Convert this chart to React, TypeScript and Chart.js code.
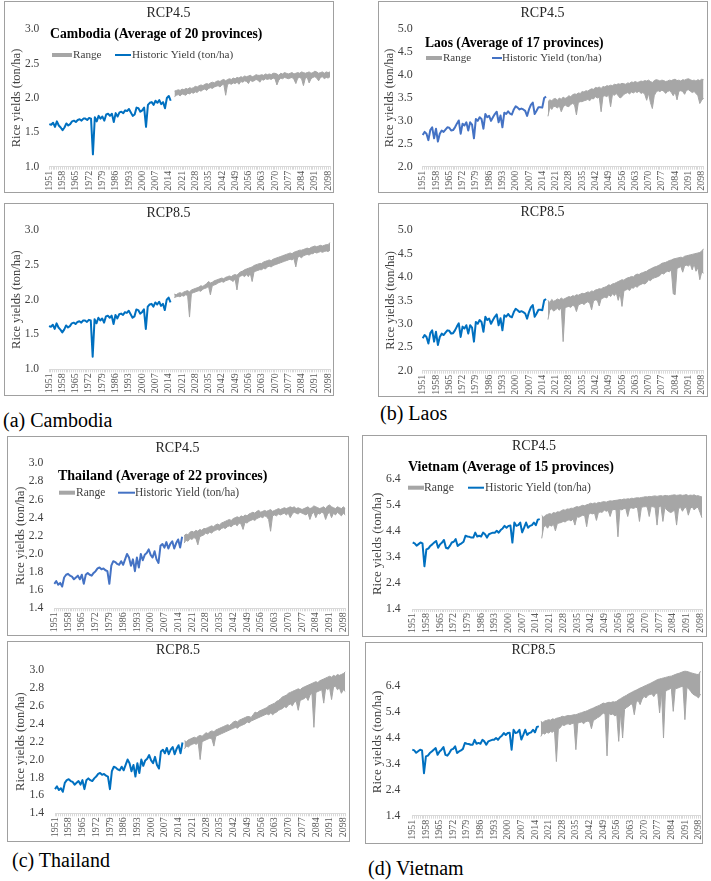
import React, { useEffect, useRef } from 'react';
import { Chart, registerables } from 'chart.js';

Chart.register(...registerables);

const SERIF = '"Liberation Serif", "Times New Roman", serif';

const FIRST_YEAR = 1951;
const LAST_YEAR = 2099;
const HIST_END = 2016;
const YEARS: string[] = [];
for (let y = FIRST_YEAR; y <= LAST_YEAR; y++) YEARS.push(String(y));

// Historic yield (ton/ha), 1951-2016
const KH_HIST = [
  1.62, 1.61, 1.64, 1.58, 1.66, 1.60, 1.57, 1.53, 1.57, 1.63,
  1.60, 1.62, 1.66, 1.67, 1.65, 1.68, 1.69, 1.67, 1.70, 1.70,
  1.68, 1.71, 1.70, 1.18, 1.72, 1.66, 1.74, 1.70, 1.73, 1.67,
  1.76, 1.77, 1.74, 1.77, 1.65, 1.78, 1.73, 1.79, 1.80, 1.78,
  1.82, 1.81, 1.84, 1.79, 1.74, 1.76, 1.86, 1.85, 1.80, 1.82,
  1.86, 1.58, 1.90, 1.93, 1.94, 1.90, 1.96, 1.93, 1.97, 1.91,
  1.94, 1.85, 2.00, 2.03, 1.96, null,
];
const LA_HIST = [
  2.69, 2.76, 2.72, 2.58, 2.80, 2.86, 2.62, 2.83, 2.55, 2.72,
  2.79, 2.76, 2.81, 2.86, 2.85, 2.79, 2.80, 2.86, 2.94, 3.01,
  2.72, 2.94, 2.90, 2.97, 2.79, 2.97, 2.92, 2.62, 3.04, 3.00,
  3.08, 3.04, 2.83, 3.15, 3.08, 3.11, 3.00, 3.08, 3.15, 3.20,
  2.97, 3.12, 2.86, 3.18, 3.15, 3.21, 3.16, 3.14, 3.25, 3.32,
  3.29, 3.25, 3.27, 3.25, 3.22, 3.11, 3.25, 3.35, 3.40, 3.15,
  3.22, 3.30, 3.30, 3.29, 3.50, 3.53,
];
const TH_HIST = [
  1.67, 1.70, 1.66, 1.68, 1.64, 1.74, 1.77, 1.78, 1.76, 1.75,
  1.72, 1.74, 1.76, 1.72, 1.77, 1.67, 1.77, 1.79, 1.77, 1.76,
  1.79, 1.81, 1.84, 1.85, 1.83, 1.84, 1.82, 1.81, 1.67, 1.87,
  1.92, 1.91, 1.89, 1.88, 1.92, 1.88, 1.94, 2.00, 1.96, 1.87,
  1.94, 1.81, 1.96, 1.85, 2.00, 1.93, 1.99, 2.01, 2.05, 1.99,
  1.96, 2.03, 1.94, 1.90, 2.09, 2.11, 2.07, 2.13, 2.06, 2.11,
  2.14, 2.06, 2.12, 2.16, 2.07, 2.19,
];
const VN_HIST = [
  3.95, 3.92, 3.83, 3.89, 3.95, 3.92, 3.04, 3.69, 3.72, 3.82,
  3.88, 3.95, 4.01, 3.75, 3.88, 3.95, 4.05, 3.75, 3.72, 3.82,
  3.95, 3.98, 4.08, 3.82, 3.88, 3.92, 3.98, 4.21, 4.18, 4.17,
  4.14, 4.14, 4.33, 4.18, 4.21, 4.18, 4.33, 4.27, 4.14, 4.27,
  4.30, 4.33, 4.33, 4.40, 4.33, 4.43, 4.49, 4.59, 4.52, 4.59,
  4.60, 3.95, 4.72, 4.59, 4.62, 4.72, 4.34, 4.52, 4.72, 4.52,
  4.59, 4.62, 4.72, 4.62, 4.83, 4.85,
];

// Projected range (upper / lower), 2017-2099
const KH45_HI = [
  2.10, 2.11, 2.12, 2.11, 2.13, 2.12, 2.14, 2.13, 2.15, 2.14,
  2.15, 2.17, 2.16, 2.18, 2.19, 2.18, 2.20, 2.21, 2.20, 2.22,
  2.23, 2.22, 2.24, 2.25, 2.24, 2.26, 2.27, 2.25, 2.27, 2.28,
  2.27, 2.29, 2.28, 2.30, 2.29, 2.31, 2.30, 2.32, 2.31, 2.32,
  2.33, 2.31, 2.32, 2.34, 2.33, 2.33, 2.34, 2.33, 2.35, 2.34,
  2.35, 2.34, 2.36, 2.36, 2.35, 2.33, 2.36, 2.35, 2.37, 2.36,
  2.35, 2.36, 2.37, 2.35, 2.36, 2.37, 2.36, 2.38, 2.37, 2.36,
  2.37, 2.38, 2.36, 2.37, 2.39, 2.38, 2.36, 2.37, 2.38, 2.36,
  2.38, 2.37, 2.38,
];
const KH45_LO = [
  2.02, 2.04, 2.05, 2.03, 2.06, 2.05, 2.04, 2.07, 2.06, 2.08,
  2.07, 2.09, 2.08, 2.11, 2.10, 2.12, 2.13, 2.11, 2.14, 2.15,
  2.14, 2.16, 2.17, 2.18, 2.16, 2.19, 2.20, 2.04, 2.20, 2.21,
  2.20, 2.22, 2.21, 2.23, 2.20, 2.24, 2.23, 2.25, 2.24, 2.21,
  2.26, 2.24, 2.25, 2.27, 2.26, 2.23, 2.27, 2.26, 2.28, 2.27,
  2.28, 2.27, 2.29, 2.28, 2.19, 2.26, 2.29, 2.28, 2.30, 2.29,
  2.28, 2.29, 2.30, 2.27, 2.21, 2.29, 2.30, 2.28, 2.18, 2.29,
  2.30, 2.22, 2.28, 2.30, 2.31, 2.29, 2.25, 2.30, 2.31, 2.28,
  2.30, 2.29, 2.31,
];
const KH85_HI = [
  2.08, 2.07, 2.09, 2.10, 2.09, 2.11, 2.12, 2.13, 2.11, 2.14,
  2.15, 2.16, 2.17, 2.18, 2.20, 2.19, 2.21, 2.23, 2.26, 2.24,
  2.25, 2.27, 2.28, 2.29, 2.30, 2.31, 2.30, 2.32, 2.33, 2.34,
  2.33, 2.35, 2.36, 2.35, 2.38, 2.40, 2.41, 2.43, 2.44, 2.45,
  2.46, 2.47, 2.49, 2.50, 2.51, 2.52, 2.52, 2.54, 2.55, 2.56,
  2.57, 2.56, 2.58, 2.59, 2.60, 2.61, 2.62, 2.63, 2.64, 2.65,
  2.66, 2.67, 2.66, 2.68, 2.69, 2.70, 2.71, 2.71, 2.72, 2.73,
  2.74, 2.73, 2.75, 2.76, 2.77, 2.76, 2.77, 2.78, 2.77, 2.78,
  2.79, 2.79, 2.82,
];
const KH85_LO = [
  2.03, 2.04, 2.05, 2.04, 2.06, 2.05, 2.07, 2.06, 1.75, 2.09,
  2.10, 2.11, 2.12, 2.13, 2.12, 2.15, 2.16, 2.17, 2.19, 2.07,
  2.20, 2.21, 2.22, 2.24, 2.25, 2.26, 2.25, 2.27, 2.28, 2.29,
  2.28, 2.26, 2.30, 2.14, 2.32, 2.34, 2.35, 2.33, 2.36, 2.33,
  2.38, 2.26, 2.40, 2.41, 2.42, 2.43, 2.43, 2.45, 2.44, 2.47,
  2.48, 2.47, 2.49, 2.50, 2.51, 2.52, 2.53, 2.54, 2.55, 2.56,
  2.57, 2.58, 2.57, 2.59, 2.47, 2.61, 2.62, 2.60, 2.63, 2.64,
  2.65, 2.64, 2.66, 2.66, 2.68, 2.67, 2.68, 2.69, 2.68, 2.69,
  2.70, 2.69, 2.71,
];
const LA45_HI = [
  3.42, 3.46, 3.44, 3.48, 3.49, 3.45, 3.50, 3.47, 3.52, 3.49,
  3.51, 3.55, 3.53, 3.57, 3.59, 3.58, 3.61, 3.60, 3.64, 3.63,
  3.66, 3.65, 3.68, 3.70, 3.69, 3.73, 3.72, 3.74, 3.71, 3.75,
  3.74, 3.77, 3.76, 3.78, 3.77, 3.80, 3.79, 3.81, 3.80, 3.82,
  3.81, 3.80, 3.83, 3.82, 3.85, 3.84, 3.86, 3.84, 3.85, 3.87,
  3.86, 3.88, 3.87, 3.89, 3.86, 3.84, 3.88, 3.90, 3.89, 3.87,
  3.89, 3.88, 3.86, 3.87, 3.89, 3.88, 3.90, 3.91, 3.88, 3.89,
  3.87, 3.90, 3.89, 3.91, 3.92, 3.90, 3.88, 3.89, 3.87, 3.90,
  3.88, 3.91, 3.90,
];
const LA45_LO = [
  3.10, 3.30, 3.25, 3.32, 3.31, 3.28, 3.33, 3.20, 3.30, 3.35,
  3.32, 3.31, 3.36, 3.38, 3.35, 3.13, 3.40, 3.42, 3.42, 3.44,
  3.45, 3.47, 3.44, 3.49, 3.48, 3.53, 3.50, 3.52, 3.20, 3.54,
  3.55, 3.53, 3.57, 3.31, 3.58, 3.56, 3.60, 3.55, 3.50, 3.53,
  3.58, 3.60, 3.62, 3.59, 3.63, 3.61, 3.64, 3.62, 3.65, 3.60,
  3.62, 3.58, 3.45, 3.60, 3.40, 3.27, 3.55, 3.63, 3.66, 3.64,
  3.67, 3.65, 3.60, 3.64, 3.66, 3.62, 3.55, 3.63, 3.46, 3.65,
  3.66, 3.64, 3.58, 3.67, 3.68, 3.65, 3.62, 3.64, 3.60, 3.55,
  3.38, 3.45, 3.50,
];
const LA85_HI = [
  3.50, 3.45, 3.52, 3.48, 3.50, 3.53, 3.51, 3.55, 3.52, 3.54,
  3.56, 3.58, 3.57, 3.60, 3.59, 3.62, 3.61, 3.63, 3.65, 3.64,
  3.66, 3.68, 3.67, 3.70, 3.69, 3.72, 3.73, 3.75, 3.74, 3.77,
  3.78, 3.80, 3.83, 3.82, 3.85, 3.86, 3.88, 3.90, 3.92, 3.94,
  3.93, 3.96, 3.98, 3.99, 4.01, 4.00, 4.04, 4.06, 4.05, 4.08,
  4.09, 4.11, 4.12, 4.15, 4.17, 4.19, 4.21, 4.22, 4.24, 4.26,
  4.29, 4.30, 4.31, 4.33, 4.35, 4.36, 4.38, 4.39, 4.40, 4.41,
  4.42, 4.41, 4.44, 4.45, 4.46, 4.47, 4.48, 4.49, 4.50, 4.51,
  4.52, 4.55, 4.60,
];
const LA85_LO = [
  3.09, 3.30, 3.32, 3.27, 3.30, 3.33, 3.29, 3.35, 2.62, 3.34,
  3.36, 3.37, 3.35, 3.39, 3.38, 3.26, 3.40, 3.42, 3.44, 3.41,
  3.45, 3.47, 3.44, 3.30, 3.49, 3.51, 3.50, 3.38, 3.53, 3.55,
  3.57, 3.55, 3.62, 3.58, 3.64, 3.60, 3.66, 3.50, 3.65, 3.37,
  3.70, 3.72, 3.74, 3.71, 3.77, 3.76, 3.80, 3.78, 3.82, 3.84,
  3.86, 3.85, 3.88, 3.94, 3.92, 3.96, 3.98, 3.99, 4.01, 4.03,
  4.08, 4.06, 4.10, 4.12, 4.11, 4.15, 3.64, 3.62, 4.18, 4.20,
  4.22, 4.10, 4.24, 4.25, 4.23, 4.27, 4.15, 4.28, 4.12, 4.20,
  3.94, 4.10, 4.08,
];
const TH45_HI = [
  2.20, 2.22, 2.21, 2.24, 2.25, 2.24, 2.26, 2.25, 2.27, 2.26,
  2.28, 2.28, 2.29, 2.30, 2.31, 2.30, 2.32, 2.33, 2.32, 2.34,
  2.35, 2.36, 2.37, 2.38, 2.37, 2.39, 2.40, 2.41, 2.40, 2.42,
  2.41, 2.43, 2.42, 2.44, 2.45, 2.46, 2.45, 2.47, 2.48, 2.46,
  2.47, 2.48, 2.47, 2.48, 2.49, 2.47, 2.48, 2.49, 2.50, 2.49,
  2.50, 2.51, 2.50, 2.51, 2.52, 2.51, 2.52, 2.50, 2.51, 2.50,
  2.49, 2.50, 2.51, 2.52, 2.50, 2.51, 2.53, 2.52, 2.51, 2.50,
  2.51, 2.52, 2.50, 2.53, 2.54, 2.52, 2.51, 2.50, 2.52, 2.51,
  2.50, 2.52, 2.50,
];
const TH45_LO = [
  2.12, 2.15, 2.14, 2.17, 2.16, 2.18, 2.17, 2.10, 2.19, 2.20,
  2.21, 2.23, 2.22, 2.24, 2.23, 2.25, 2.26, 2.27, 2.26, 2.28,
  2.29, 2.28, 2.30, 2.31, 2.30, 2.32, 2.33, 2.31, 2.34, 2.33,
  2.27, 2.35, 2.34, 2.36, 2.37, 2.38, 2.37, 2.39, 2.40, 2.41,
  2.40, 2.42, 2.41, 2.38, 2.25, 2.42, 2.43, 2.42, 2.44, 2.43,
  2.44, 2.45, 2.43, 2.45, 2.40, 2.44, 2.46, 2.45, 2.44, 2.46,
  2.45, 2.44, 2.43, 2.45, 2.38, 2.44, 2.46, 2.40, 2.45, 2.44,
  2.46, 2.45, 2.38, 2.44, 2.46, 2.40, 2.45, 2.43, 2.46, 2.44,
  2.42, 2.45, 2.43,
];
const TH85_HI = [
  2.21, 2.20, 2.22, 2.23, 2.24, 2.25, 2.24, 2.26, 2.27, 2.26,
  2.28, 2.30, 2.29, 2.31, 2.32, 2.31, 2.33, 2.34, 2.35, 2.36,
  2.37, 2.38, 2.39, 2.38, 2.40, 2.42, 2.43, 2.42, 2.44, 2.45,
  2.46, 2.47, 2.48, 2.48, 2.47, 2.50, 2.53, 2.52, 2.54, 2.55,
  2.56, 2.57, 2.58, 2.60, 2.61, 2.62, 2.63, 2.65, 2.66, 2.68,
  2.70, 2.71, 2.72, 2.74, 2.75, 2.76, 2.77, 2.78, 2.79, 2.78,
  2.80, 2.81, 2.82, 2.83, 2.84, 2.85, 2.86, 2.87, 2.86, 2.88,
  2.89, 2.90, 2.91, 2.92, 2.93, 2.92, 2.94, 2.93, 2.95, 2.94,
  2.95, 2.96, 2.98,
];
const TH85_LO = [
  2.12, 2.15, 2.14, 2.16, 2.17, 2.18, 2.17, 2.19, 2.00, 2.20,
  2.21, 2.22, 2.23, 2.24, 2.23, 2.15, 2.26, 2.27, 2.28, 2.29,
  2.30, 2.31, 2.32, 2.33, 2.34, 2.35, 2.36, 2.35, 2.37, 2.38,
  2.39, 2.40, 2.42, 2.41, 2.43, 2.44, 2.45, 2.46, 2.47, 2.48,
  2.49, 2.50, 2.51, 2.50, 2.52, 2.50, 2.52, 2.53, 2.55, 2.56,
  2.57, 2.59, 2.58, 2.61, 2.62, 2.60, 2.64, 2.65, 2.55, 2.66,
  2.67, 2.68, 2.70, 2.66, 2.72, 2.74, 2.36, 2.75, 2.76, 2.77,
  2.78, 2.63, 2.80, 2.78, 2.80, 2.67, 2.81, 2.82, 2.78, 2.80,
  2.74, 2.78, 2.76,
];
const VN45_HI = [
  4.99, 4.92, 5.00, 5.03, 5.06, 5.04, 5.10, 5.08, 5.13, 5.12,
  5.17, 5.21, 5.19, 5.24, 5.23, 5.27, 5.26, 5.30, 5.33, 5.31,
  5.35, 5.38, 5.36, 5.40, 5.42, 5.46, 5.44, 5.47, 5.45, 5.49,
  5.48, 5.51, 5.52, 5.50, 5.53, 5.55, 5.54, 5.56, 5.57, 5.58,
  5.60, 5.59, 5.62, 5.61, 5.63, 5.62, 5.65, 5.64, 5.66, 5.67,
  5.66, 5.68, 5.69, 5.71, 5.70, 5.72, 5.71, 5.73, 5.74, 5.72,
  5.74, 5.75, 5.73, 5.76, 5.75, 5.74, 5.76, 5.77, 5.78, 5.76,
  5.77, 5.78, 5.76, 5.77, 5.79, 5.75, 5.77, 5.76, 5.78, 5.74,
  5.75, 5.72, 5.70,
];
const VN45_LO = [
  4.11, 4.55, 4.60, 4.50, 4.62, 4.58, 4.65, 4.40, 4.68, 4.70,
  4.72, 4.76, 4.74, 4.80, 4.82, 4.78, 4.85, 4.62, 4.94, 4.92,
  4.96, 5.00, 4.98, 4.56, 5.03, 5.07, 5.05, 5.08, 4.80, 5.10,
  5.12, 5.11, 5.20, 5.15, 5.18, 4.95, 5.20, 5.22, 5.21, 4.17,
  5.24, 5.20, 5.25, 5.26, 4.95, 5.27, 5.28, 5.26, 5.30, 5.29,
  4.76, 5.30, 5.32, 5.33, 5.31, 4.95, 5.34, 5.32, 5.30, 4.62,
  5.33, 5.35, 4.76, 5.30, 5.20, 5.14, 5.10, 5.14, 5.20, 4.62,
  5.25, 5.30, 5.15, 5.28, 5.30, 5.00, 5.25, 5.32, 5.20, 5.28,
  5.30, 5.10, 4.90,
];
const VN85_HI = [
  5.04, 5.00, 5.06, 5.08, 5.11, 5.09, 5.14, 5.12, 5.16, 5.18,
  5.20, 5.24, 5.22, 5.25, 5.27, 5.26, 5.28, 5.30, 5.30, 5.33,
  5.36, 5.38, 5.41, 5.43, 5.46, 5.50, 5.53, 5.56, 5.60, 5.63,
  5.66, 5.70, 5.75, 5.73, 5.76, 5.78, 5.77, 5.80, 5.79, 5.82,
  5.88, 5.92, 5.97, 6.01, 6.05, 6.10, 6.14, 6.18, 6.22, 6.25,
  6.29, 6.33, 6.36, 6.40, 6.43, 6.47, 6.50, 6.54, 6.58, 6.62,
  6.66, 6.68, 6.70, 6.72, 6.74, 6.76, 6.78, 6.79, 6.82, 6.85,
  6.88, 6.90, 6.93, 6.96, 6.98, 6.97, 6.95, 6.92, 6.90, 6.88,
  6.86, 6.85, 6.98,
];
const VN85_LO = [
  4.46, 4.60, 4.55, 4.62, 4.59, 4.65, 4.62, 4.70, 3.49, 4.75,
  4.80, 4.91, 4.88, 4.93, 4.95, 4.92, 4.96, 4.97, 3.95, 4.98,
  5.00, 5.02, 4.95, 5.03, 5.05, 5.04, 4.76, 5.08, 5.12, 5.18,
  5.22, 5.28, 5.37, 5.32, 3.71, 5.35, 5.30, 5.33, 5.25, 5.30,
  4.27, 5.40, 4.40, 5.50, 5.58, 5.62, 5.69, 5.72, 5.30, 5.78,
  5.85, 5.69, 5.90, 6.01, 5.95, 6.05, 6.08, 6.10, 6.00, 6.12,
  6.14, 5.37, 6.18, 4.40, 6.20, 6.25, 6.28, 6.34, 5.43, 6.30,
  6.32, 6.35, 6.38, 6.40, 5.11, 6.35, 6.30, 6.20, 6.10, 6.05,
  6.01, 5.95, 6.10,
];

// Y-axis tick labels
const KH_TICKS = [1.0, 1.5, 2.0, 2.5, 3.0];
const LA_TICKS = [2.0, 2.5, 3.0, 3.5, 4.0, 4.5, 5.0];
const TH_TICKS = [1.4, 1.6, 1.8, 2.0, 2.2, 2.4, 2.6, 2.8, 3.0];
const VN_TICKS = [1.4, 2.4, 3.4, 4.4, 5.4, 6.4];

const BLUE = '#0070C0';
const BLUE2 = '#4472C4';
const GRAY = '#A6A6A6';

type Legend = {
  name: string; bx: number; by: number; bsize: number; ly: number;
  rx: number; rw: number; rtx: number; hx: number; hw: number; htx: number; lsize: number;
};
type Panel = {
  key: string; title: string;
  hist: (number | null)[]; hi: number[]; lo: number[]; ticks: number[];
  yMin: number; yMax: number; color: string;
  box: { l: number; t: number; r: number; b: number };
  plot: { l: number; r: number; t: number; b: number };
  titleY: number; yTitleX: number; yTitleSize: number; tickSize: number; tickGap: number;
  legend?: Legend;
};

const PANELS: Panel[] = [
  {
    key: 'kh45', title: 'RCP4.5', hist: KH_HIST, hi: KH45_HI, lo: KH45_LO, ticks: KH_TICKS,
    yMin: 1.0, yMax: 3.0, color: BLUE,
    box: { l: 4, t: 1, r: 333, b: 192 }, plot: { l: 49.3, r: 330, t: 29.3, b: 166.7 },
    titleY: 13, yTitleX: 16.5, yTitleSize: 12.5, tickSize: 11.5, tickGap: 10,
    legend: { name: 'Cambodia (Average of 20 provinces)', bx: 50, by: 34, bsize: 13.7, ly: 55,
      rx: 52, rw: 20, rtx: 73, hx: 115, hw: 16, htx: 132, lsize: 11.2 },
  },
  {
    key: 'kh85', title: 'RCP8.5', hist: KH_HIST, hi: KH85_HI, lo: KH85_LO, ticks: KH_TICKS,
    yMin: 1.0, yMax: 3.0, color: BLUE,
    box: { l: 4, t: 203, r: 333, b: 395 }, plot: { l: 49, r: 330, t: 230, b: 369.3 },
    titleY: 213.3, yTitleX: 16.7, yTitleSize: 12.5, tickSize: 11.5, tickGap: 10,
  },
  {
    key: 'la45', title: 'RCP4.5', hist: LA_HIST, hi: LA45_HI, lo: LA45_LO, ticks: LA_TICKS,
    yMin: 2.0, yMax: 5.0, color: BLUE2,
    box: { l: 378, t: 1, r: 707, b: 192 }, plot: { l: 422.7, r: 703.6, t: 29.3, b: 166.7 },
    titleY: 13.3, yTitleX: 390, yTitleSize: 12.5, tickSize: 12, tickGap: 10,
    legend: { name: 'Laos (Average of 17 provinces)', bx: 425, by: 43, bsize: 13.6, ly: 58,
      rx: 426, rw: 16, rtx: 443, hx: 492, hw: 10, htx: 502, lsize: 11 },
  },
  {
    key: 'la85', title: 'RCP8.5', hist: LA_HIST, hi: LA85_HI, lo: LA85_LO, ticks: LA_TICKS,
    yMin: 2.0, yMax: 5.0, color: BLUE,
    box: { l: 378, t: 203, r: 707, b: 396 }, plot: { l: 422.7, r: 703.6, t: 230, b: 370.7 },
    titleY: 212.7, yTitleX: 390.7, yTitleSize: 12.5, tickSize: 12, tickGap: 10,
  },
  {
    key: 'th45', title: 'RCP4.5', hist: TH_HIST, hi: TH45_HI, lo: TH45_LO, ticks: TH_TICKS,
    yMin: 1.4, yMax: 3.0, color: BLUE2,
    box: { l: 7, t: 436, r: 348, b: 635 }, plot: { l: 54.3, r: 345.3, t: 463.3, b: 608.3 },
    titleY: 448, yTitleX: 20.3, yTitleSize: 12.5, tickSize: 11.7, tickGap: 11,
    legend: { name: 'Thailand (Average of 22 provinces)', bx: 58, by: 476.7, bsize: 14, ly: 492.7,
      rx: 59, rw: 16, rtx: 76, hx: 118, hw: 17, htx: 135, lsize: 11.5 },
  },
  {
    key: 'th85', title: 'RCP8.5', hist: TH_HIST, hi: TH85_HI, lo: TH85_LO, ticks: TH_TICKS,
    yMin: 1.4, yMax: 3.0, color: BLUE,
    box: { l: 7, t: 641, r: 349, b: 841 }, plot: { l: 55, r: 345.3, t: 670, b: 813.3 },
    titleY: 650, yTitleX: 20.8, yTitleSize: 12.5, tickSize: 11.7, tickGap: 11,
  },
  {
    key: 'vn45', title: 'RCP4.5', hist: VN_HIST, hi: VN45_HI, lo: VN45_LO, ticks: VN_TICKS,
    yMin: 1.4, yMax: 6.4, color: BLUE,
    box: { l: 362, t: 435, r: 706, b: 636 }, plot: { l: 412.7, r: 702, t: 478.7, b: 609 },
    titleY: 446.7, yTitleX: 377.5, yTitleSize: 13, tickSize: 11.7, tickGap: 12,
    legend: { name: 'Vietnam (Average of 15 provinces)', bx: 408, by: 467, bsize: 14, ly: 487.7,
      rx: 408, rw: 16, rtx: 424, hx: 468, hw: 16, htx: 485, lsize: 11.7 },
  },
  {
    key: 'vn85', title: 'RCP8.5', hist: VN_HIST, hi: VN85_HI, lo: VN85_LO, ticks: VN_TICKS,
    yMin: 1.4, yMax: 7.1, color: BLUE,
    box: { l: 365, t: 642, r: 702, b: 843 }, plot: { l: 412.3, r: 700.5, t: 668.1, b: 815.7 },
    titleY: 650.7, yTitleX: 377.5, yTitleSize: 13, tickSize: 11.7, tickGap: 12,
  },
];

const CAPTIONS = [
  { text: '(a) Cambodia', x: 3, y: 420 },
  { text: '(b) Laos', x: 380, y: 413 },
  { text: '(c) Thailand', x: 12, y: 860 },
  { text: '(d) Vietnam', x: 368, y: 868 },
];

function buildConfig(p: Panel): any {
  const ox = p.box.l + 1;
  const oy = p.box.t + 1;
  const cw = p.box.r - p.box.l - 1;
  const ch = p.box.b - p.box.t - 1;
  const pl = p.plot.l - ox;
  const pr = p.plot.r - ox;
  const pt = p.plot.t - oy;
  const pb = p.plot.b - oy;
  const titleLH = p.yTitleSize * 1.2;
  const scaleLeft = p.yTitleX - ox - titleLH / 2;
  const yWidth = pl - scaleLeft;
  const xHeight = ch - pb;
  const nHist = HIST_END - FIRST_YEAR + 1;
  const nProj = LAST_YEAR - HIST_END;

  const histData = [...p.hist, ...new Array(nProj).fill(null)];
  const loData = [...new Array(nHist).fill(null), ...p.lo];
  const hiData = [...new Array(nHist).fill(null), ...p.hi];

  const overlay = {
    id: 'overlay_' + p.key,
    afterDraw(chart: any) {
      const ctx = chart.ctx as CanvasRenderingContext2D;
      ctx.save();
      ctx.textBaseline = 'middle';
      ctx.textAlign = 'center';
      ctx.fillStyle = '#262626';
      ctx.font = `14px ${SERIF}`;
      ctx.fillText(p.title, (p.box.l + p.box.r) / 2 - ox, p.titleY - oy);
      const lg = p.legend;
      if (lg) {
        ctx.textAlign = 'left';
        ctx.fillStyle = '#000';
        ctx.font = `bold ${lg.bsize}px ${SERIF}`;
        ctx.fillText(lg.name, lg.bx - ox, lg.by - oy);
        ctx.fillStyle = GRAY;
        ctx.fillRect(lg.rx - ox, lg.ly - oy - 2, lg.rw, 4);
        ctx.fillStyle = '#404040';
        ctx.font = `${lg.lsize}px ${SERIF}`;
        ctx.fillText('Range', lg.rtx - ox, lg.ly - oy);
        ctx.strokeStyle = p.color;
        ctx.lineWidth = 2;
        ctx.beginPath();
        ctx.moveTo(lg.hx - ox, lg.ly - oy);
        ctx.lineTo(lg.hx + lg.hw - ox, lg.ly - oy);
        ctx.stroke();
        ctx.fillText('Historic Yield (ton/ha)', lg.htx - ox, lg.ly - oy);
      }
      ctx.restore();
    },
  };

  return {
    type: 'line',
    data: {
      labels: YEARS,
      datasets: [
        { label: 'Range low', data: loData, borderColor: GRAY, borderWidth: 1, backgroundColor: GRAY,
          pointRadius: 0, fill: false, spanGaps: false },
        { label: 'Range', data: hiData, borderColor: GRAY, borderWidth: 1, backgroundColor: GRAY,
          pointRadius: 0, fill: '-1', spanGaps: false },
        { label: 'Historic Yield (ton/ha)', data: histData, borderColor: p.color, borderWidth: 2,
          pointRadius: 0, fill: false, spanGaps: false, borderJoinStyle: 'round' },
      ],
    },
    options: {
      responsive: false,
      animation: false,
      devicePixelRatio: 1,
      events: [],
      layout: { padding: { left: scaleLeft, right: cw - pr, top: pt, bottom: 0 } },
      elements: { line: { tension: 0 }, point: { radius: 0 } },
      plugins: {
        legend: { display: false },
        title: { display: false },
        tooltip: { enabled: false },
      },
      scales: {
        x: {
          type: 'category',
          ticks: {
            autoSkip: false, maxRotation: 90, minRotation: 90, padding: 1,
            color: '#595959', font: { family: SERIF, size: 10 },
            callback: (_v: any, i: number) => ((i % 7 === 0) ? YEARS[i] : ''),
          },
          grid: { drawOnChartArea: false, drawTicks: true, tickLength: 3, color: '#D9D9D9' },
          border: { display: true, color: '#D9D9D9' },
          afterFit: (s: any) => { s.height = xHeight; s.paddingLeft = 0; s.paddingRight = 0; },
        },
        y: {
          min: p.yMin, max: p.yMax,
          afterBuildTicks: (s: any) => { s.ticks = p.ticks.map((v) => ({ value: v })); },
          ticks: {
            autoSkip: false,
            padding: p.tickGap, color: '#404040', font: { family: SERIF, size: p.tickSize },
            callback: (v: any) => Number(v).toFixed(1),
          },
          grid: { display: false, drawTicks: false },
          border: { display: false },
          title: {
            display: true, text: 'Rice yields (ton/ha)', color: '#404040',
            font: { family: SERIF, size: p.yTitleSize }, padding: { top: 0, bottom: 0 },
          },
          afterFit: (s: any) => { s.width = yWidth; s.paddingTop = 0; s.paddingBottom = 0; },
        },
      },
    },
    plugins: [overlay],
  };
}

function ChartBox({ p }: { p: Panel }) {
  const ref = useRef<HTMLCanvasElement | null>(null);
  const cw = p.box.r - p.box.l - 1;
  const ch = p.box.b - p.box.t - 1;
  useEffect(() => {
    if (!ref.current) return;
    const chart = new Chart(ref.current, buildConfig(p));
    return () => chart.destroy();
  }, [p]);
  return (
    <div
      style={{
        position: 'absolute', left: p.box.l, top: p.box.t, width: cw, height: ch,
        border: '1px solid #A0A0A0', background: '#fff',
      }}
    >
      <canvas ref={ref} width={cw} height={ch} style={{ display: 'block', width: cw, height: ch }} />
    </div>
  );
}

export default function App() {
  return (
    <div style={{ position: 'absolute', left: 0, top: 0, width: 711, height: 881, background: '#fff', overflow: 'hidden' }}>
      {PANELS.map((p) => <ChartBox key={p.key} p={p} />)}
      {CAPTIONS.map((c) => (
        <div
          key={c.text}
          style={{
            position: 'absolute', left: c.x, top: c.y - 12, height: 24, lineHeight: '24px',
            fontFamily: SERIF, fontSize: 20, color: '#000', whiteSpace: 'nowrap',
          }}
        >
          {c.text}
        </div>
      ))}
    </div>
  );
}
